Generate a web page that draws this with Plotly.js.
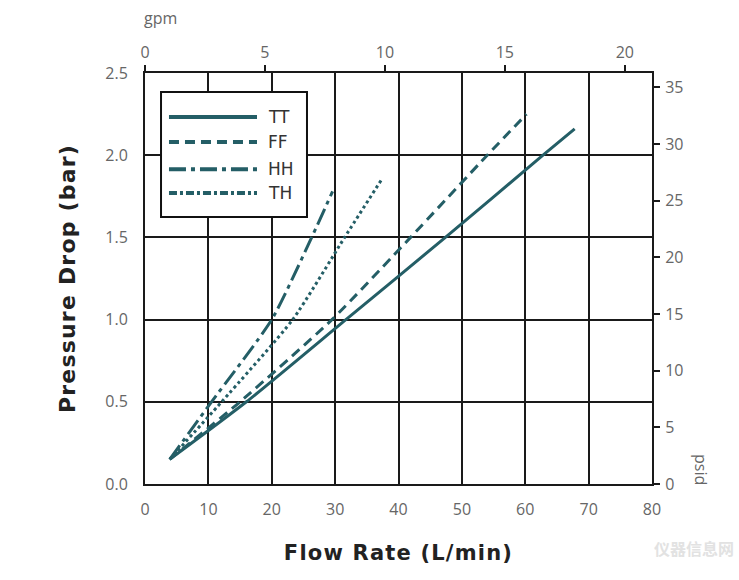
<!DOCTYPE html>
<html>
<head>
<meta charset="utf-8">
<script src="https://cdn.plot.ly/plotly-3.0.1.min.js"></script>
<style>
html,body{margin:0;padding:0;background:#fff;}
#chart{width:739px;height:580px;}
.g-xtitle text {letter-spacing: 1.2px;}
.g-ytitle text {letter-spacing: 1.2px;}
</style>
</head>
<body>
<div id="chart"></div>
<script>
// ---- data ----
const seriesNames = ["TT", "FF", "HH", "TH"];
const ttFlow = [3.9, 16.0, 31.7, 47.4, 62.8, 67.8];
const ttDrop = [0.15, 0.5, 1.0, 1.5, 2.0, 2.16];
const ffFlow = [3.9, 15.0, 29.5, 41.9, 54.0, 60.2];
const ffDrop = [0.15, 0.5, 1.0, 1.5, 2.0, 2.25];
const hhFlow = [3.9, 10.5, 20.0, 26.3, 29.6];
const hhDrop = [0.15, 0.5, 1.0, 1.5, 1.78];
const thFlow = [3.9, 12.1, 23.3, 31.5, 37.3];
const thDrop = [0.15, 0.5, 1.0, 1.5, 1.85];
const flowTicks = [0, 10, 20, 30, 40, 50, 60, 70, 80];
const gpmTicks = [0, 5, 10, 15, 20];
const barTicks = [0, 0.5, 1.0, 1.5, 2.0, 2.5];
const psiTicks = [0, 5, 10, 15, 20, 25, 30, 35];
const LPM_PER_GPM = 3.78541;
const PSI_PER_BAR = 14.5038;

const lineColor = "#245e66";
const dashes = ["solid", "10px,6px", "17px,5px,4px,5px", "3px,3px"];
const legendDashes = ["solid", "10px,6px", "17px,5px,4px,5px", "8px,3px,3px,3px"];
const xs = [ttFlow, ffFlow, hhFlow, thFlow];
const ys = [ttDrop, ffDrop, hhDrop, thDrop];

const traces = seriesNames.map((n, i) => ({
  type: "scatter", mode: "lines", name: n,
  x: xs[i], y: ys[i], xaxis: "x", yaxis: "y",
  line: {color: lineColor, width: 3, dash: dashes[i], shape: "spline", smoothing: 0.6},
  showlegend: false, hoverinfo: "skip"
}));
// invisible helper traces to activate secondary axes
traces.push({type: "scatter", x: [0], y: [0], xaxis: "x2", yaxis: "y", mode: "markers", marker: {opacity: 0}, showlegend: false, hoverinfo: "skip"});
traces.push({type: "scatter", x: [0], y: [0], xaxis: "x", yaxis: "y2", mode: "markers", marker: {opacity: 0}, showlegend: false, hoverinfo: "skip"});

const tickFont = {family: "Open Sans, sans-serif", size: 16, color: "#666"};
const xTitleFont = {family: "DejaVu Sans, sans-serif", size: 21, color: "#222", weight: "bold"};
const yTitleFont = {family: "DejaVu Sans, sans-serif", size: 22, color: "#222", weight: "bold"};

// custom legend (box, sample lines, labels) in paper coordinates
const lgX0 = 0.0316, lgX1 = 0.3195, lgY0 = 0.6496, lgY1 = 0.9538;
const rowY = [0.893, 0.832, 0.766, 0.708];
const shapes = [{type: "rect", xref: "paper", yref: "paper", x0: lgX0, x1: lgX1, y0: lgY0, y1: lgY1,
  fillcolor: "#fff", line: {color: "#111", width: 2}, layer: "above"}];
const annotations = [];
seriesNames.forEach((n, i) => {
  shapes.push({type: "line", xref: "paper", yref: "paper", x0: 0.0473, x1: 0.2209, y0: rowY[i], y1: rowY[i],
    line: {color: lineColor, width: 4, dash: legendDashes[i]}, layer: "above"});
  annotations.push({xref: "paper", yref: "paper", x: 0.2386, y: rowY[i], xanchor: "left", yanchor: "middle",
    text: n, showarrow: false, font: {family: "DejaVu Sans, sans-serif", size: 17, color: "#333"}});
});
annotations.push({xref: "paper", yref: "paper", x: 0, y: 1.134, xanchor: "left", yanchor: "middle", xshift: -3,
  text: "gpm", showarrow: false, font: tickFont});
annotations.push({xref: "paper", yref: "paper", x: 1, y: 0.0365, xanchor: "center", yanchor: "middle", xshift: 49,
  text: "psid", textangle: 90, showarrow: false, font: tickFont});
annotations.push({xref: "paper", yref: "paper", x: 1, y: -0.155, xanchor: "center", yanchor: "middle", xshift: 42,
  text: "仪器信息网", showarrow: false, font: {family: "Noto Sans CJK SC, sans-serif", size: 16, color: "#e2e2e2", weight: "bold"}});

const layout = {
  width: 739, height: 580,
  margin: {l: 145, r: 87, t: 73, b: 96},
  paper_bgcolor: "#fff", plot_bgcolor: "#fff",
  showlegend: false,
  xaxis: {range: [0, 80], tickvals: flowTicks, ticktext: flowTicks.map(String),
    showgrid: true, gridcolor: "#1a1a1a", gridwidth: 2, zeroline: false,
    showline: true, linecolor: "#1a1a1a", linewidth: 2, mirror: true,
    ticks: "", tickfont: tickFont, ticklabelstandoff: 10,
    title: {text: "Flow Rate (L/min)", font: xTitleFont, standoff: 26}},
  xaxis2: {overlaying: "x", side: "top", range: [0, 80 / LPM_PER_GPM],
    tickvals: gpmTicks, ticktext: gpmTicks.map(String),
    showgrid: false, zeroline: false, showline: false,
    ticks: "outside", ticklen: 7, tickwidth: 1.8, tickcolor: "#1a1a1a",
    tickfont: tickFont, ticklabelstandoff: 1},
  yaxis: {range: [0, 2.5], tickvals: barTicks, ticktext: barTicks.map(v => v.toFixed(1)),
    showgrid: true, gridcolor: "#1a1a1a", gridwidth: 2, zeroline: false,
    showline: true, linecolor: "#1a1a1a", linewidth: 2, mirror: true,
    ticks: "", tickfont: tickFont, ticklabelstandoff: 12,
    title: {text: "Pressure Drop (bar)", font: yTitleFont, standoff: 24}},
  yaxis2: {overlaying: "y", side: "right", range: [0, 2.5 * PSI_PER_BAR],
    tickvals: psiTicks, ticktext: psiTicks.map(String),
    showgrid: false, zeroline: false, showline: false,
    ticks: "outside", ticklen: 7, tickwidth: 1.8, tickcolor: "#1a1a1a",
    tickfont: tickFont, ticklabelstandoff: 2},
  shapes: shapes,
  annotations: annotations
};

Plotly.newPlot("chart", traces, layout, {displayModeBar: false, staticPlot: true});
</script>
</body>
</html>
